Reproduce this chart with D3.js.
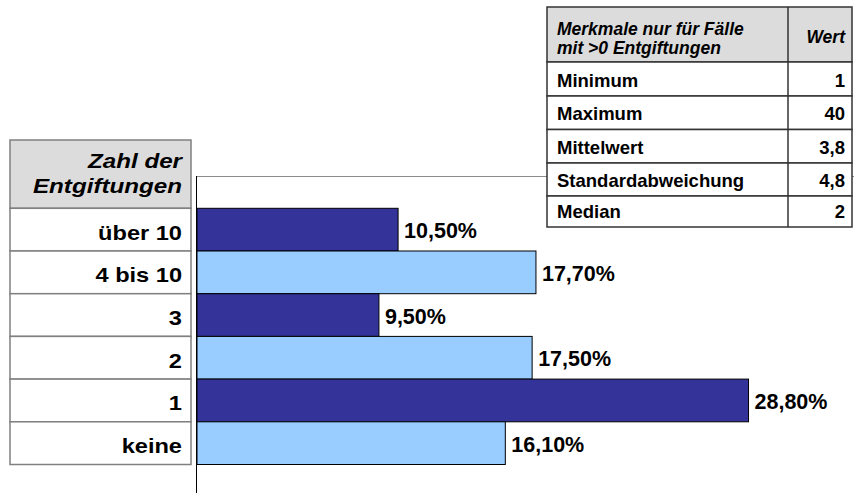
<!DOCTYPE html>
<html><head><meta charset="utf-8">
<script src="https://cdn.jsdelivr.net/npm/d3@7"></script>
<style>
html,body{margin:0;padding:0;background:#fff;}
svg text{font-family:"Liberation Sans",Arial,sans-serif;font-weight:bold;fill:#000;}
</style></head><body>
<script>
const categories = ["über 10", "4 bis 10", "3", "2", "1", "keine"];
const values = [10.5, 17.7, 9.5, 17.5, 28.8, 16.1];
const valueLabels = ["10,50%", "17,70%", "9,50%", "17,50%", "28,80%", "16,10%"];
const barColors = ["#333399", "#99ccff", "#333399", "#99ccff", "#333399", "#99ccff"];
const statNames = ["Minimum", "Maximum", "Mittelwert", "Standardabweichung", "Median"];
const statValues = ["1", "40", "3,8", "4,8", "2"];
const leftHeader = ["Zahl der", "Entgiftungen"];
const rightHeader = ["Merkmale nur für Fälle", "mit >0 Entgiftungen"];
const valueHeader = "Wert";

const W = 854, H = 493;
const svg = d3.select("body").append("svg").attr("width", W).attr("height", H);

const x = d3.scaleLinear().domain([0, 30]).range([197, 197 + 30 * 19.15]);
const y = d3.scaleBand().domain(categories).range([208.3, 464.5]).padding(0);

// plot area top line (gray) and axis
svg.append("line").attr("x1", 196).attr("x2", 854).attr("y1", 176.5).attr("y2", 176.5)
  .attr("stroke", "#8c8c8c").attr("stroke-width", 1);

// bars
svg.selectAll("rect.bar").data(values).join("rect").attr("class", "bar")
  .attr("x", x(0)).attr("y", (d, i) => y(categories[i]))
  .attr("width", d => x(d) - x(0)).attr("height", y.bandwidth())
  .attr("fill", (d, i) => barColors[i]).attr("stroke", "#000").attr("stroke-width", 1);

svg.selectAll("text.val").data(values).join("text").attr("class", "val")
  .attr("x", d => x(d) + 6).attr("y", (d, i) => y(categories[i]) + y.bandwidth() / 2 + 8.5)
  .attr("font-size", 21.5).text((d, i) => valueLabels[i]);

svg.append("line").attr("x1", 196.5).attr("x2", 196.5).attr("y1", 176).attr("y2", 493)
  .attr("stroke", "#000").attr("stroke-width", 1);

// left table
const lt = svg.append("g");
const tl = 10, tr = 191, hTop = 140;
lt.append("rect").attr("x", tl).attr("y", hTop).attr("width", tr - tl).attr("height", y(categories[0]) - hTop)
  .attr("fill", "#dcdcdc").attr("stroke", "#808080").attr("stroke-width", 1.5);
lt.selectAll("rect.row").data(categories).join("rect").attr("class", "row")
  .attr("x", tl).attr("y", d => y(d)).attr("width", tr - tl).attr("height", y.bandwidth())
  .attr("fill", "#fff").attr("stroke", "#808080").attr("stroke-width", 1.5);
const sx = 1.18;
lt.selectAll("text.hdr").data(leftHeader).join("text").attr("class", "hdr")
  .attr("transform", (d, i) => `translate(182,${168 + i * 25}) scale(${sx},1)`)
  .attr("text-anchor", "end").attr("font-size", 20.5).attr("font-style", "italic").text(d => d);
lt.selectAll("text.cat").data(categories).join("text").attr("class", "cat")
  .attr("transform", d => `translate(182,${y(d) + y.bandwidth() - 11.5}) scale(${sx},1)`)
  .attr("text-anchor", "end").attr("font-size", 20).text(d => d);

// right table
const rt = svg.append("g");
const rl = 547, rr = 852, rc = 788, rTop = 7, rHB = 62;
const rowTops = [62, 96, 129.5, 163, 196, 227];
rt.append("rect").attr("x", rl).attr("y", rTop).attr("width", rr - rl).attr("height", rHB - rTop)
  .attr("fill", "#dcdcdc").attr("stroke", "#333").attr("stroke-width", 1.5);
rt.selectAll("rect.srow").data(statNames).join("rect").attr("class", "srow")
  .attr("x", rl).attr("y", (d, i) => rowTops[i]).attr("width", rr - rl)
  .attr("height", (d, i) => rowTops[i + 1] - rowTops[i])
  .attr("fill", "#fff").attr("stroke", "#333").attr("stroke-width", 1.5);
rt.append("line").attr("x1", rc).attr("x2", rc).attr("y1", rTop).attr("y2", rowTops[5])
  .attr("stroke", "#333").attr("stroke-width", 1.5);
rt.selectAll("text.rh").data(rightHeader).join("text").attr("class", "rh")
  .attr("x", 557).attr("y", (d, i) => 34.5 + i * 19).attr("font-size", 17.5).attr("font-style", "italic").text(d => d);
rt.append("text").attr("x", 845).attr("y", 43).attr("text-anchor", "end")
  .attr("font-size", 17.5).attr("font-style", "italic").text(valueHeader);
rt.selectAll("text.sn").data(statNames).join("text").attr("class", "sn")
  .attr("x", 557).attr("y", (d, i) => rowTops[i + 1] - 9.5).attr("font-size", 18.5).text(d => d);
rt.selectAll("text.sv").data(statValues).join("text").attr("class", "sv")
  .attr("x", 845).attr("y", (d, i) => rowTops[i + 1] - 9.5).attr("text-anchor", "end").attr("font-size", 18.5).text(d => d);
</script>
</body></html>
